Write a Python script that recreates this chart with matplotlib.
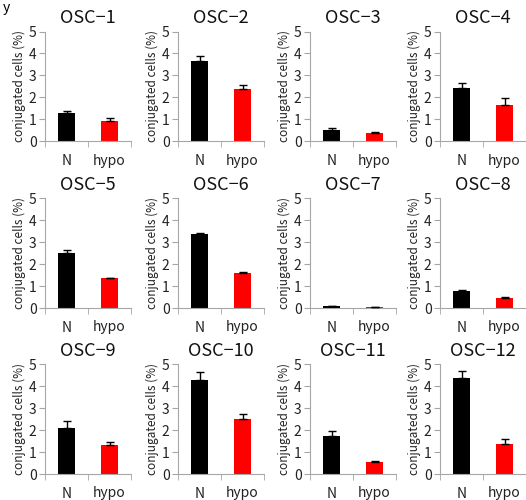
import matplotlib
matplotlib.use("Agg")
import matplotlib.pyplot as plt
import numpy as np

plt.rcParams['font.family'] = ['Noto Sans CJK JP', 'DejaVu Sans']

# conjugated cells (%) for normoxia (N) and hypoxia (hypo)
titles = ["OSC\u22121", "OSC\u22122", "OSC\u22123", "OSC\u22124",
          "OSC\u22125", "OSC\u22126", "OSC\u22127", "OSC\u22128",
          "OSC\u22129", "OSC\u221210", "OSC\u221211", "OSC\u221212"]
categories = ["N", "hypo"]
n_vals = [1.28, 3.64, 0.53, 2.45, 2.48, 3.35, 0.07, 0.78, 2.11, 4.27, 1.74, 4.35]
n_err = [0.10, 0.26, 0.10, 0.22, 0.14, 0.05, 0.03, 0.04, 0.31, 0.38, 0.22, 0.33]
hypo_vals = [0.95, 2.37, 0.40, 1.67, 1.36, 1.57, 0.03, 0.47, 1.33, 2.48, 0.53, 1.36]
hypo_err = [0.10, 0.20, 0.04, 0.32, 0.0, 0.05, 0.01, 0.04, 0.14, 0.27, 0.05, 0.23]
yticks = [0, 1, 2, 3, 4, 5]

W, H = 526, 500
fig = plt.figure(figsize=(W / 100, H / 100), dpi=100)

lefts = [45, 178, 310, 440]
tops = [31.5, 198, 364]
aw, ah = 86, 110
axcol = "#a6a6a6"

for i in range(12):
    r, c = divmod(i, 4)
    ax = fig.add_axes([lefts[c] / W, 1 - (tops[r] + ah) / H, aw / W, ah / H])
    x = np.arange(len(categories))
    vals = [n_vals[i], hypo_vals[i]]
    errs = [n_err[i], hypo_err[i]]
    ax.bar(x, vals, width=0.4, color=["black", "#ff0000"], zorder=2)
    ax.errorbar(x, vals, yerr=[[0, 0], errs], fmt="none", ecolor="black",
                elinewidth=1, capsize=3, capthick=1, zorder=3)
    ax.set_xlim(-0.5, 1.5)
    ax.set_ylim(0, 5)
    ax.set_yticks(yticks)
    ax.set_xticks(x)
    ax.set_xticklabels(categories)
    ax.set_xticks([-0.5, 0.5, 1.5], minor=True)
    ax.tick_params(axis="x", which="major", length=0, pad=9, labelsize=10,
                   labelcolor="#222222")
    ax.tick_params(axis="x", which="minor", length=4, color=axcol)
    ax.tick_params(axis="y", length=4, color=axcol, labelsize=10, pad=2,
                   labelcolor="#222222")
    for s in ["top", "right"]:
        ax.spines[s].set_visible(False)
    for s in ["left", "bottom"]:
        ax.spines[s].set_color(axcol)
    ax.set_ylabel("conjugated cells (%)", fontsize=8.5, labelpad=2,
                  color="#222222")
    ax.set_title(titles[i], fontsize=13, pad=6, color="#111111")

fig.text(0.006, 0.998, "y", fontsize=10, va="top")
fig.savefig("out.png", dpi=100)
